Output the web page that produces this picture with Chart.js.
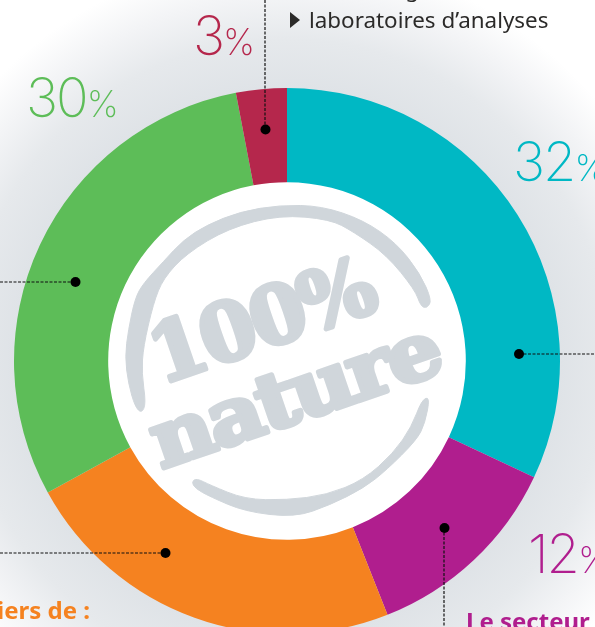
<!DOCTYPE html>
<html><head><meta charset="utf-8">
<script src="https://cdn.jsdelivr.net/npm/chart.js@4"></script>
<style>
html,body{margin:0;padding:0;width:595px;height:627px;overflow:hidden;background:#fff}
#bg{position:absolute;left:0;top:0;width:595px;height:627px;background:radial-gradient(circle 405px at 287px 361px,#dfe3e7 0,#dfe3e7 273px,#e6e9ec 322px,#f3f4f6 365px,#fff 405px)}
#wrap{position:absolute;left:0;top:0;width:595px;height:722px}
.pct{position:absolute;font-family:Inter,sans-serif;font-weight:250;font-size:54px;line-height:54px;letter-spacing:-2px;white-space:nowrap}
.pct span{font-size:36px;letter-spacing:-2px}
.txt{position:absolute;font-family:"Noto Sans",sans-serif;white-space:nowrap}
svg{position:absolute;left:0;top:0}
</style></head><body>
<div id="bg"></div>
<div id="wrap"><canvas id="c"></canvas></div>
<svg width="595" height="627" viewBox="0 0 595 627">
  <g transform="translate(100,180) scale(.33333)" fill="#d0d6db" stroke="#d0d6db" stroke-width="3" stroke-linejoin="round">
    <path id="arcTop"/>
    <path id="arcBottom"/>
  </g>
  <g fill="#d0d6db" stroke="#d0d6db" stroke-linejoin="round" font-family="'DejaVu Serif'" font-weight="700" text-anchor="middle">
    <text transform="translate(270,347) rotate(-19)" font-size="80" stroke-width="5" letter-spacing="-3">100%</text>
    <text transform="translate(303,420) rotate(-19) scale(1.1,1)" font-size="78" stroke-width="5" letter-spacing="-3">nature</text>
  </g>
  <g stroke="#111" stroke-width="1.2" stroke-dasharray="3 1.5" fill="none">
    <path d="M265 0V129"/><path d="M519 354H595"/><path d="M444 528V627"/><path d="M165 553H0"/><path d="M75 282H0"/>
  </g>
  <g fill="#000">
    <circle cx="265.500" cy="129.500" r="5"/><circle cx="519" cy="354" r="5"/><circle cx="444.500" cy="528" r="5"/><circle cx="165.500" cy="553" r="5"/><circle cx="75.500" cy="282" r="5"/>
  </g>
  <path d="M290 12L300 20L290 28Z" fill="#2b2a29"/>
</svg>
<div class="pct" style="left:193px;top:9px;color:#b5274c">3<span>%</span></div>
<div class="pct" style="left:26px;top:71px;color:#5dbd58">30<span>%</span></div>
<div class="pct" style="left:513px;top:135px;color:#00b8c4">32<span>%</span></div>
<div class="pct" style="left:528px;top:527px;color:#b01e8e">12<span>%</span></div>
<div class="txt" style="left:309px;top:-26px;font-size:22.400px;line-height:30px;color:#2b2a29">secteur agroalimentaire</div>
<div class="txt" style="left:309px;top:5px;font-size:22.400px;line-height:30px;color:#2b2a29">laboratoires d’analyses</div>
<div class="txt" style="left:-3px;top:595px;font-size:24px;line-height:30px;font-weight:700;color:#f58220">iers de :</div>
<div class="txt" style="left:466px;top:606px;font-size:24px;line-height:30px;font-weight:700;color:#b01e8e">Le secteur</div>
<script>
const categories = ["32 %", "12 %", "23 %", "30 %", "3 %"];
const shares = [32, 12, 23, 30, 3];
const sliceColors = ["#00b8c4", "#b01e8e", "#f58220", "#5dbd58", "#b5274c"];

// Decorative logo outlines, smoothed into curves
const logoTop = [[105,680],[125,700],[138,670],[125,580],[130,500],[160,370],[190,295],[260,220],[385,145],[540,105],[690,118],[760,155],[860,225],[945,330],[962,378],[980,385],[996,362],[960,280],[890,190],[790,120],[665,78],[540,75],[420,95],[320,135],[250,180],[190,245],[130,310],[105,355],[85,450],[75,530],[85,610]];
const logoBottom = [[275,905],[290,895],[330,915],[435,958],[560,960],[680,945],[790,900],[880,820],[935,740],[965,660],[990,650],[975,730],[950,780],[860,870],[790,925],[690,975],[585,1012],[435,995],[330,950],[285,925]];
function smooth(p){
  let d = "";
  const n = p.length;
  for (let i = 0; i < n; i++) {
    const a = p[i], b = p[(i + 1) % n];
    const m = [(a[0] + b[0]) / 2, (a[1] + b[1]) / 2];
    d += i === 0 ? "M" + m.join(" ") : "Q" + a.join(" ") + " " + m.join(" ");
  }
  const a = p[0], m0 = [(p[0][0] + p[1][0]) / 2, (p[0][1] + p[1][1]) / 2];
  return d + "Q" + a.join(" ") + " " + m0.join(" ") + "Z";
}
document.getElementById("arcTop").setAttribute("d", smooth(logoTop));
document.getElementById("arcBottom").setAttribute("d", smooth(logoBottom));

const whiteHole = {
  id: "whiteHole",
  beforeDatasetsDraw(chart) {
    const arc = chart.getDatasetMeta(0).data[0];
    const ctx = chart.ctx;
    ctx.save();
    ctx.fillStyle = "#fff";
    ctx.beginPath();
    ctx.arc(arc.x, arc.y, arc.innerRadius + 1, 0, Math.PI * 2);
    ctx.fill();
    ctx.restore();
  }
};

new Chart(document.getElementById("c"), {
  type: "doughnut",
  data: {
    labels: categories,
    datasets: [{ data: shares, backgroundColor: sliceColors, borderWidth: 0 }]
  },
  options: {
    responsive: true,
    maintainAspectRatio: false,
    animation: false,
    cutout: "65.5%",
    layout: { padding: { left: 14, right: 35, top: 88, bottom: 88 } },
    plugins: { legend: { display: false }, tooltip: { enabled: false } }
  },
  plugins: [whiteHole]
});
</script>
</body></html>
